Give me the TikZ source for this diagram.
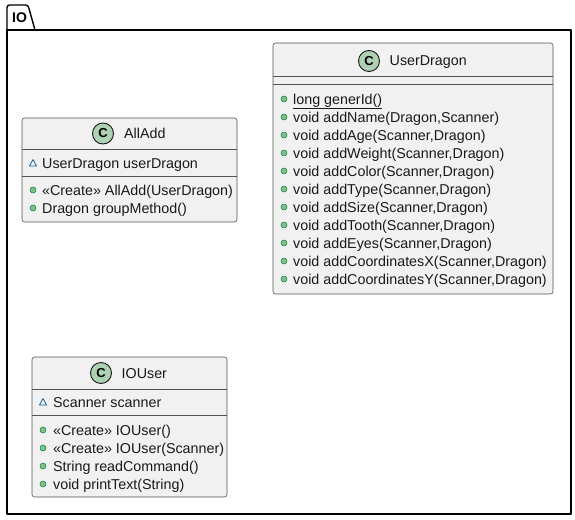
\documentclass[tikz,border=0pt]{standalone}
\usepackage{fontspec}
\setmainfont{Liberation Sans}
\definecolor{boxfill}{HTML}{F1F1F1}
\definecolor{boxline}{HTML}{181818}
\definecolor{circfill}{HTML}{ADD1B2}
\definecolor{pubfill}{HTML}{84BE84}
\definecolor{publine}{HTML}{038048}
\definecolor{pkgline}{HTML}{1963A0}
\begin{document}
\begin{tikzpicture}[x=1pt,y=-1pt,
  classbox/.style={draw=boxline!75, line width=0.6pt, fill=boxfill, rounded corners=2.5pt},
  sepline/.style={draw=boxline!75, line width=0.6pt},
  membertext/.style={anchor=base west, inner sep=0pt, text=black!90, font=\fontsize{14.3}{16}\selectfont},
  titletext/.style={anchor=base west, inner sep=0pt, text=black!90, font=\fontsize{14.3}{16}\selectfont},
  pubicon/.style={circle, draw=publine, fill=pubfill, inner sep=0pt, minimum size=6pt, line width=0.5pt},
  pkgicon/.style={draw=pkgline, line width=0.8pt, line join=round},
  circC/.style={circle, draw=boxline, fill=circfill, minimum size=21pt, inner sep=0pt, line width=0.9pt, font=\bfseries\fontsize{13}{13}\selectfont},
  pkgframe/.style={draw=black, line width=1.4pt, line join=round}
]
\useasboundingbox (0,0) rectangle (575,519);
% package IO
\draw[pkgframe] (7,30) rectangle (571,514);
\draw[pkgframe, rounded corners=2.5pt] (7,30) -- (7,5) -- (28,5) -- (35,30);
\node[inner sep=0pt, anchor=base west, font=\bfseries\fontsize{14}{16}\selectfont] (pkgname) at (12,23) {IO};

% ---------- AllAdd
\draw[classbox] (22,118) rectangle (237,222);
\draw[sepline] (22,149) -- (237,149);
\draw[sepline] (22,176) -- (237,176);
\node[circC] (allC) at (103,133.5) {C};
\node[titletext] (allT) at (124,138.5) {AllAdd};
\draw[pkgicon] (29.5,166) -- (36.5,166) -- (33,159.5) -- cycle;
\node[membertext] (allA1) at (42,168) {UserDragon userDragon};
\node[pubicon] (allI1) at (33,190) {};
\node[membertext] (allM1) at (42,195) {«Create» AllAdd(UserDragon)};
\node[pubicon] (allI2) at (33,208) {};
\node[membertext] (allM2) at (42,213) {Dragon groupMethod()};

% ---------- UserDragon
\draw[classbox] (273,43) rectangle (553,294);
\draw[sepline] (273,76) -- (553,76);
\draw[sepline] (273,84) -- (553,84);
\node[circC] (udC) at (369,61) {C};
\node[titletext] (udT) at (389.5,66) {UserDragon};
\foreach \t [count=\i from 0] in {{\underline{long generId()}},
  {void addName(Dragon,Scanner)},
  {void addAge(Scanner,Dragon)},
  {void addWeight(Scanner,Dragon)},
  {void addColor(Scanner,Dragon)},
  {void addType(Scanner,Dragon)},
  {void addSize(Scanner,Dragon)},
  {void addTooth(Scanner,Dragon)},
  {void addEyes(Scanner,Dragon)},
  {void addCoordinatesX(Scanner,Dragon)},
  {void addCoordinatesY(Scanner,Dragon)}}{
  \node[pubicon] (udI\i) at (284,99+18*\i) {};
  \node[membertext] (udM\i) at (293,104+18*\i) {\t};
}

% ---------- IOUser
\draw[classbox] (32,357) rectangle (227,497);
\draw[sepline] (32,389) -- (227,389);
\draw[sepline] (32,415) -- (227,415);
\node[circC] (ioC) at (101,373) {C};
\node[titletext] (ioT) at (121.5,378) {IOUser};
\draw[pkgicon] (39.5,405) -- (46.5,405) -- (43,398.5) -- cycle;
\node[membertext] (ioA1) at (53,407) {Scanner scanner};
\node[pubicon] (ioI1) at (43,430) {};
\node[membertext] (ioM1) at (53,435) {«Create» IOUser()};
\node[pubicon] (ioI2) at (43,448) {};
\node[membertext] (ioM2) at (53,453) {«Create» IOUser(Scanner)};
\node[pubicon] (ioI3) at (43,466) {};
\node[membertext] (ioM3) at (53,471) {String readCommand()};
\node[pubicon] (ioI4) at (43,484) {};
\node[membertext] (ioM4) at (53,489) {void printText(String)};
\end{tikzpicture}
\end{document}
